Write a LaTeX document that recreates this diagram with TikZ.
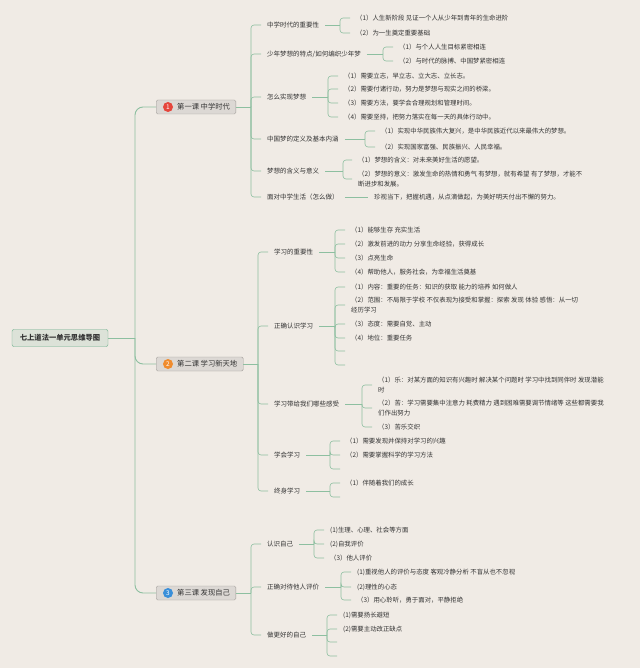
\documentclass[tikz,border=0pt]{standalone}
\usepackage{fontspec}
\newfontfamily\cjk{Noto Sans CJK SC}
\definecolor{bg}{HTML}{F0EBE5}
\definecolor{lineg}{HTML}{8DBFA0}
\definecolor{txt}{HTML}{333333}
\definecolor{lfill}{HTML}{DCD8D4}
\definecolor{lbd}{HTML}{A09C98}
\definecolor{rfill}{HTML}{DCE2D8}
\definecolor{rbd}{HTML}{6AAE8A}
\definecolor{cred}{HTML}{E5463C}
\definecolor{corange}{HTML}{F08C2E}
\definecolor{cblue}{HTML}{3A8FD9}
\tikzset{
  conn/.style={draw=lineg, line width=0.6pt, rounded corners=3pt},
  mainconn/.style={draw=lineg, line width=0.9pt, rounded corners=8pt},
  br/.style={font=\cjk\fontsize{6.5}{7.5}\selectfont, text=txt, anchor=west, inner xsep=6pt, inner ysep=1pt},
  itm/.style={font=\cjk\fontsize{6.4}{10}\selectfont, text=txt, anchor=west, inner xsep=6pt, inner ysep=1pt, align=left},
  lesson/.style={draw=lbd, fill=lfill, rounded corners=1.5pt, minimum height=14pt, inner xsep=6pt, inner ysep=0pt, anchor=west, font=\cjk\fontsize{7.3}{8}\selectfont, text=txt},
  numc/.style={circle, inner sep=0pt, minimum size=10pt, text=white, font=\cjk\fontsize{6.5}{7}\selectfont},
  rootbox/.style={draw=rbd, fill=rfill, rounded corners=2pt, minimum width=96pt, minimum height=17pt, inner sep=0pt, font=\cjk\bfseries\fontsize{7.3}{8}\selectfont, text=txt},
}
\begin{document}
\begin{tikzpicture}[x=1pt,y=-1pt]
\fill[bg] (0,0) rectangle (640,668);
\useasboundingbox (0,0) rectangle (640,668);

% root and lessons
\node[rootbox] (root) at (60,338) {七上道法一单元思维导图};
\node[lesson] (l1) at (156,107) {\hspace{15pt}第一课 中学时代};
\node[lesson] (l2) at (156,364) {\hspace{15pt}第二课 学习新天地};
\node[lesson] (l3) at (156,593) {\hspace{15pt}第三课 发现自己};
\node[numc, fill=cred] (n1) at ([xshift=12pt]l1.west) {1};
\node[numc, fill=corange] (n2) at ([xshift=12pt]l2.west) {2};
\node[numc, fill=cblue] (n3) at ([xshift=12pt]l3.west) {3};

\coordinate (t0) at (135,338);
\draw[mainconn] (root.east) -- (t0);
\foreach \l in {l1,l2,l3} \draw[mainconn] (t0) |- (\l.west);

% ---------------- lesson 1
\node[br] (b11) at (261,25) {中学时代的重要性};
\node[br] (b12) at (261,54) {少年梦想的特点/如何编织少年梦};
\node[br] (b13) at (261,97) {怎么实现梦想};
\node[br] (b14) at (261,139) {中国梦的定义及基本内涵};
\node[br] (b15) at (261,171) {梦想的含义与意义};
\node[br] (b16) at (261,197) {面对中学生活（怎么做）};
\coordinate (t1) at (251,107);
\draw[conn] (l1.east) -- (t1);
\foreach \b in {b11,b12,b13,b14,b15,b16} \draw[conn] (t1) |- (\b.west);

\node[itm] (i111) at (350,18) {（1）人生新阶段 见证一个人从少年到青年的生命进阶};
\node[itm] (i112) at (350,33) {（2）为一生奠定重要基础};
\coordinate (k11) at (340,25);
\draw[conn] (b11.east) -- (k11);
\foreach \c in {i111,i112} \draw[conn] (k11) |- (\c.west);

\node[itm] (i121) at (393,47) {（1）与个人人生目标紧密相连};
\node[itm] (i122) at (393,61) {（2）与时代的脉搏、中国梦紧密相连};
\coordinate (k12) at (383,54);
\draw[conn] (b12.east) -- (k12);
\foreach \c in {i121,i122} \draw[conn] (k12) |- (\c.west);

\node[itm] (i131) at (338,76) {（1）需要立志，早立志、立大志、立长志。};
\node[itm] (i132) at (338,89) {（2）需要付诸行动，努力是梦想与现实之间的桥梁。};
\node[itm] (i133) at (338,103) {（3）需要方法，要学会合理规划和管理时间。};
\node[itm] (i134) at (338,117) {（4）需要坚持，把努力落实在每一天的具体行动中。};
\coordinate (k13) at (328,97);
\draw[conn] (b13.east) -- (k13);
\foreach \c in {i131,i132,i133,i134} \draw[conn] (k13) |- (\c.west);

\node[itm] (i141) at (375,131) {（1）实现中华民族伟大复兴，是中华民族近代以来最伟大的梦想。};
\node[itm] (i142) at (375,147) {（2）实现国家富强、民族振兴、人民幸福。};
\coordinate (k14) at (365,139);
\draw[conn] (b14.east) -- (k14);
\foreach \c in {i141,i142} \draw[conn] (k14) |- (\c.west);

\node[itm] (i151) at (352,160) {（1）梦想的含义：对未来美好生活的愿望。};
\node[itm] (i152) at (352,179) {（2）梦想的意义：激发生命的热情和勇气 有梦想，就有希望 有了梦想，才能不\\断进步和发展。};
\coordinate (k15) at (343,171);
\draw[conn] (b15.east) -- (k15);
\foreach \c in {i151,i152} \draw[conn] (k15) |- (\c.west);

\node[itm] (i161) at (368,197) {珍视当下，把握机遇，从点滴做起，为美好明天付出不懈的努力。};
\draw[conn] (b16.east) -- (i161.west);

% ---------------- lesson 2
\node[br] (b21) at (268,252) {学习的重要性};
\node[br] (b22) at (268,326) {正确认识学习};
\node[br] (b23) at (268,404) {学习带给我们哪些感受};
\node[br] (b24) at (268,455) {学会学习};
\node[br] (b25) at (268,491) {终身学习};
\coordinate (t2) at (258,364);
\draw[conn] (l2.east) -- (t2);
\foreach \b in {b21,b22,b23,b24,b25} \draw[conn] (t2) |- (\b.west);

\node[itm] (i211) at (345,230) {（1）能够生存 充实生活};
\node[itm] (i212) at (345,244) {（2）激发前进的动力 分享生命经验，获得成长};
\node[itm] (i213) at (345,258) {（3）点亮生命};
\node[itm] (i214) at (345,272) {（4）帮助他人，服务社会，为幸福生活奠基};
\coordinate (k21) at (335,252);
\draw[conn] (b21.east) -- (k21);
\foreach \c in {i211,i212,i213,i214} \draw[conn] (k21) |- (\c.west);

\node[itm] (i221) at (345,287) {（1）内容：重要的任务：知识的获取 能力的培养 如何做人};
\node[itm] (i222) at (345,305) {（2）范围：不局限于学校 不仅表现为接受和掌握：探索 发现 体验 感悟：从一切\\经历学习};
\node[itm] (i223) at (345,324) {（3）态度：需要自觉、主动};
\node[itm] (i224) at (345,338) {（4）地位：重要任务};
\coordinate (e225) at (345,351);
\coordinate (e226) at (345,365);
\coordinate (k22) at (335,326);
\draw[conn] (b22.east) -- (k22);
\foreach \c in {i221,i222,i223,i224} \draw[conn] (k22) |- (\c.west);
\foreach \c in {e225,e226} \draw[conn] (k22) |- (\c);

\node[itm] (i231) at (372,385) {（1）乐：对某方面的知识有兴趣时 解决某个问题时 学习中找到同伴时 发现潜能\\时};
\node[itm] (i232) at (372,408) {（2）苦：学习需要集中注意力 耗费精力 遇到困难需要调节情绪等 这些都需要我\\们作出努力};
\node[itm] (i233) at (372,427) {（3）苦乐交织};
\coordinate (k23) at (362,404);
\draw[conn] (b23.east) -- (k23);
\foreach \c in {i231,i232,i233} \draw[conn] (k23) |- (\c.west);

\node[itm] (i241) at (340,441) {（1）需要发现并保持对学习的兴趣};
\node[itm] (i242) at (340,455) {（2）需要掌握科学的学习方法};
\coordinate (e243) at (340,469);
\coordinate (k24) at (330,455);
\draw[conn] (b24.east) -- (k24);
\foreach \c in {i241,i242} \draw[conn] (k24) |- (\c.west);
\draw[conn] (k24) |- (e243);

\node[itm] (i251) at (340,483) {（1）伴随着我们的成长};
\coordinate (e252) at (340,497);
\coordinate (k25) at (330,491);
\draw[conn] (b25.east) -- (k25);
\draw[conn] (k25) |- (i251.west);
\draw[conn] (k25) |- (e252);

% ---------------- lesson 3
\node[br] (b31) at (261,544) {认识自己};
\node[br] (b32) at (261,587) {正确对待他人评价};
\node[br] (b33) at (261,635) {做更好的自己};
\coordinate (t3) at (251,593);
\draw[conn] (l3.east) -- (t3);
\foreach \b in {b31,b32,b33} \draw[conn] (t3) |- (\b.west);

\node[itm] (i311) at (324,530) {(1)生理、心理、社会等方面};
\node[itm] (i312) at (324,544) {(2)自我评价};
\node[itm] (i313) at (324,558) {（3）他人评价};
\coordinate (k31) at (314,544);
\draw[conn] (b31.east) -- (k31);
\foreach \c in {i311,i312,i313} \draw[conn] (k31) |- (\c.west);

\node[itm] (i321) at (351,572) {(1)重视他人的评价与态度 客观冷静分析 不盲从也不忽视};
\node[itm] (i322) at (351,587) {(2)理性的心态};
\node[itm] (i323) at (351,600) {（3）用心聆听，勇于面对，平静拒绝};
\coordinate (k32) at (341,587);
\draw[conn] (b32.east) -- (k32);
\foreach \c in {i321,i322,i323} \draw[conn] (k32) |- (\c.west);

\node[itm] (i331) at (337,615) {(1)需要扬长避短};
\node[itm] (i332) at (337,629) {(2)需要主动改正缺点};
\coordinate (e333) at (337,642);
\coordinate (e334) at (337,656);
\coordinate (k33) at (327,635);
\draw[conn] (b33.east) -- (k33);
\foreach \c in {i331,i332} \draw[conn] (k33) |- (\c.west);
\foreach \c in {e333,e334} \draw[conn] (k33) |- (\c);
\end{tikzpicture}
\end{document}
